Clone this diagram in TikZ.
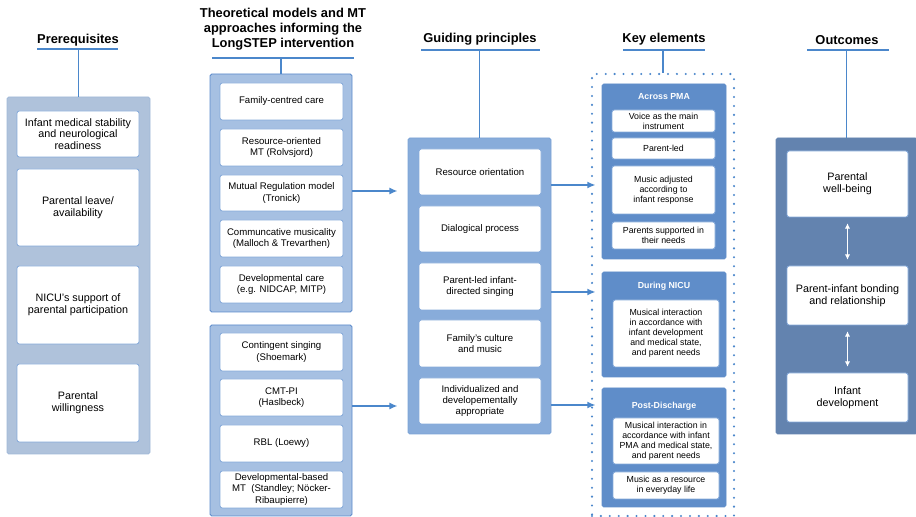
\documentclass[tikz,border=0pt]{standalone}
\usepackage{fontspec}
\setmainfont{Liberation Sans}
\usetikzlibrary{arrows.meta}

\definecolor{linkblue}{HTML}{4B87CB}
\definecolor{boxline}{HTML}{86AADA}
\definecolor{prefill}{HTML}{AFC2DB}
\definecolor{preline}{HTML}{A0B8D8}
\definecolor{theofill}{HTML}{A6C0E2}
\definecolor{theoline}{HTML}{5A8ACB}
\definecolor{guidefill}{HTML}{88ACDA}
\definecolor{guideline}{HTML}{7AA3D6}
\definecolor{keyfill}{HTML}{5F8DC9}
\definecolor{outfill}{HTML}{6383AF}

\tikzset{
  spot/.style n args={4}{minimum width={(#3-#1)*0.03cm},minimum height={(#4-#2)*0.03cm},at={({(#1+#3)/2},{(#2+#4)/2})}},
  head/.style={font=\bfseries\fontsize{11}{12.8}\selectfont,align=center},
  panel/.style={inner sep=0pt,rounded corners=1.5pt,line width=0.8pt},
  box/.style={draw=boxline,fill=white,rounded corners=2pt,inner sep=0pt,align=center,line width=0.7pt,font=\fontsize{8.2}{9.5}\selectfont},
  bigbox/.style={box,font=\fontsize{9.2}{10}\selectfont},
  smallbox/.style={box,font=\fontsize{7.5}{8.6}\selectfont},
  subhead/.style={font=\bfseries\fontsize{7.5}{9}\selectfont,text=white},
  link/.style={linkblue,line width=1.3pt},
  linkarrow/.style={link,-{Latex[length=7pt,width=6pt]}}
}

\begin{document}
\begin{tikzpicture}[x=0.03cm,y=-0.03cm]
  \path[use as bounding box] (0,0) rectangle (916,517);

  \node[head] (prehead) at (78,40) {Prerequisites};
  \node[head] (theohead) at (283,29.5) {Theoretical models and MT\\approaches informing the\\LongSTEP intervention};
  \node[head] (guidehead) at (480,39) {Guiding principles};
  \node[head] (keyhead) at (664,39) {Key elements};
  \node[head] (outhead) at (847,40) {Outcomes};

  \node[panel,fill=prefill,draw=preline,spot={7}{97}{150}{454}] (pre) {};
  \node[bigbox,spot={17}{111}{139}{157}] (pre1) {Infant medical stability\\and neurological\\readiness};
  \node[bigbox,spot={17}{169}{139}{246}] (pre2) {Parental leave/\\availability};
  \node[bigbox,spot={17}{266}{139}{344}] (pre3) {NICU’s support of\\parental participation};
  \node[bigbox,spot={17}{364}{139}{442}] (pre4) {Parental\\willingness};

  \node[panel,fill=theofill,draw=theoline,spot={210}{74}{352}{312}] (theoA) {};
  \node[box,spot={220}{83}{343}{120}] (theo1) {Family-centred care};
  \node[box,spot={220}{129}{343}{166}] (theo2) {Resource-oriented\\MT (Rolvsjord)};
  \node[box,spot={220}{175}{343}{211}] (theo3) {Mutual Regulation model\\(Tronick)};
  \node[box,spot={220}{220}{343}{257}] (theo4) {Communcative musicality\\(Malloch \& Trevarthen)};
  \node[box,spot={220}{266}{343}{303}] (theo5) {Developmental care\\(e.g. NIDCAP, MITP)};

  \node[panel,fill=theofill,draw=theoline,spot={210}{325}{352}{516}] (theoB) {};
  \node[box,spot={220}{333}{343}{371}] (theo6) {Contingent singing\\(Shoemark)};
  \node[box,spot={220}{379}{343}{416}] (theo7) {CMT-PI\\(Haslbeck)};
  \node[box,spot={220}{425}{343}{462}] (theo8) {RBL (Loewy)};
  \node[box,spot={220}{471}{343}{508}] (theo9) {Developmental-based\\MT\ \ (Standley; Nöcker-\\Ribaupierre)};

  \node[panel,fill=guidefill,draw=guideline,spot={408}{138}{551}{434}] (guide) {};
  \node[box,spot={419}{149}{541}{195}] (guide1) {Resource orientation};
  \node[box,spot={419}{206}{541}{252}] (guide2) {Dialogical process};
  \node[box,spot={419}{263}{541}{310}] (guide3) {Parent-led infant-\\directed singing};
  \node[box,spot={419}{320}{541}{367}] (guide4) {Family’s culture\\and music};
  \node[box,spot={419}{378}{541}{424}] (guide5) {Individualized and\\developementally\\appropriate};

  \node[draw=linkblue,line width=2pt,line cap=round,dash pattern=on 0pt off 7.6pt,inner sep=0pt,spot={592}{74}{734}{516}] (key) {};
  \node[panel,fill=keyfill,draw=keyfill,spot={602}{84}{726}{259}] (across) {};
  \node[subhead] (acrosshead) at (664,97) {Across PMA};
  \node[smallbox,spot={612}{110}{715}{132}] (across1) {Voice as the main\\instrument};
  \node[smallbox,spot={612}{138}{715}{159}] (across2) {Parent-led};
  \node[smallbox,spot={612}{166}{715}{214}] (across3) {Music adjusted\\according to\\infant response};
  \node[smallbox,spot={612}{222}{715}{249}] (across4) {Parents supported in\\their needs};

  \node[panel,fill=keyfill,draw=keyfill,spot={602}{272}{726}{377}] (nicu) {};
  \node[subhead] (nicuhead) at (664,286) {During NICU};
  \node[smallbox,spot={613}{300}{719}{367}] (nicu1) {Musical interaction\\in accordance with\\infant development\\and medical state,\\and parent needs};

  \node[panel,fill=keyfill,draw=keyfill,spot={602}{388}{726}{507}] (post) {};
  \node[subhead] (posthead) at (664,406) {Post-Discharge};
  \node[smallbox,spot={613}{418}{719}{464}] (post1) {Musical interaction in\\accordance with infant\\PMA and medical state,\\and parent needs};
  \node[smallbox,spot={613}{472}{719}{499}] (post2) {Music as a resource\\in everyday life};

  \node[panel,fill=outfill,draw=outfill,spot={776}{138}{917}{434}] (out) {};
  \node[bigbox,spot={787}{151}{908}{217}] (out1) {Parental\\well-being};
  \node[bigbox,spot={787}{266}{908}{325}] (out2) {Parent-infant bonding\\and relationship};
  \node[bigbox,spot={787}{373}{908}{422}] (out3) {Infant\\development};

  \draw[link] (37,49) -- (118,49);
  \draw[link] (212,58) -- (354,58);
  \draw[link] (421,50) -- (540,50);
  \draw[link] (623,50) -- (705,50);
  \draw[link] (807,50) -- (889,50);
  \draw[link] (pre.north |- 0,49) -- (pre.north);
  \draw[link] (theoA.north |- 0,58) -- (theoA.north);
  \draw[link] (guide.north |- 0,50) -- (guide.north);
  \draw[link] (key.north |- 0,50) -- (key.north);
  \draw[link] (out.north |- 0,50) -- (out.north);

  \draw[linkarrow,shorten >=8.5pt] (theoA.east |- 0,191) -- (guide.west |- 0,191);
  \draw[linkarrow,shorten >=8.5pt] (theoB.east |- 0,406) -- (guide.west |- 0,406);
  \draw[linkarrow,shorten >=-4pt] (guide.east |- 0,185) -- (key.west |- 0,185);
  \draw[linkarrow,shorten >=-4pt] (guide.east |- 0,292) -- (key.west |- 0,292);
  \draw[linkarrow,shorten >=-4pt] (guide.east |- 0,405) -- (key.west |- 0,405);

  \draw[white,line width=1.1pt,{Latex[length=4.5pt,width=4.5pt]}-{Latex[length=4.5pt,width=4.5pt]},shorten <=5pt,shorten >=5pt] (out1) -- (out2);
  \draw[white,line width=1.1pt,{Latex[length=4.5pt,width=4.5pt]}-{Latex[length=4.5pt,width=4.5pt]},shorten <=5pt,shorten >=5pt] (out2) -- (out3);
\end{tikzpicture}
\end{document}
